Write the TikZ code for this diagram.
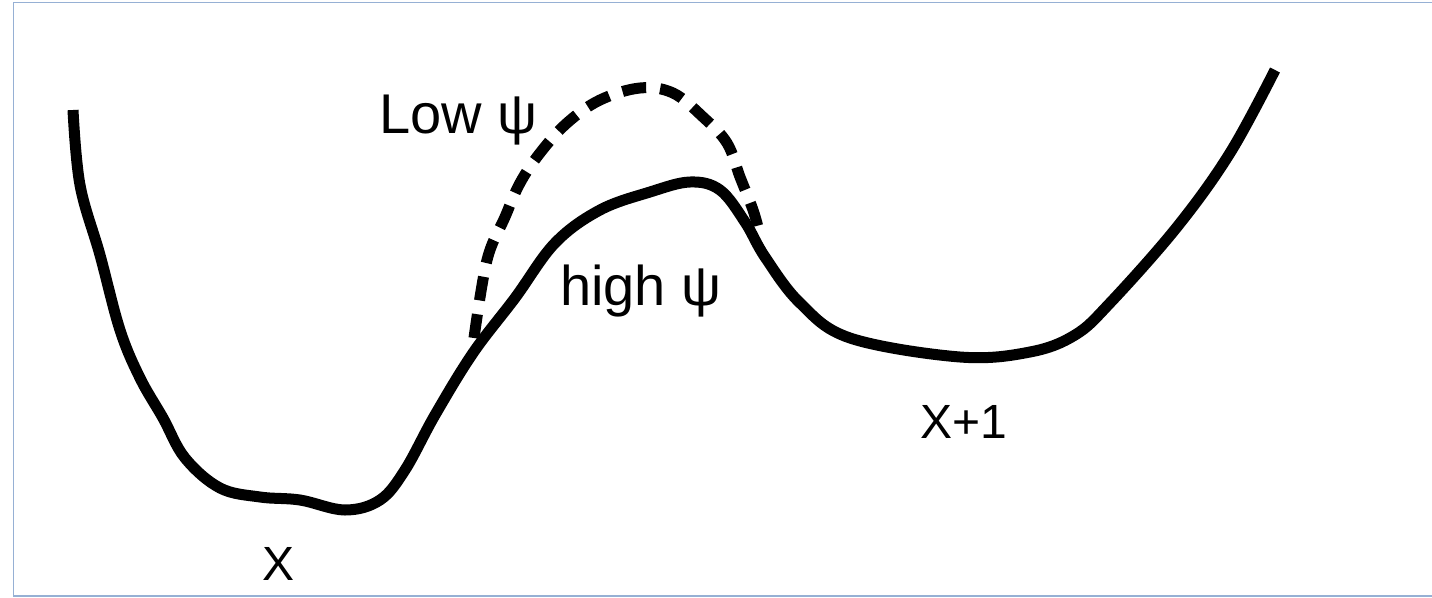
\documentclass[tikz,border=0pt]{standalone}
\usepackage{fontspec}
\setmainfont{Liberation Sans}
\begin{document}
\begin{tikzpicture}[x=1pt,y=-1pt,
  curve/.style={line width=11pt,black},
  dashcurve/.style={line width=11pt,black,dash pattern=on 24pt off 14pt},
  lbl/.style={inner sep=0pt,font=\fontsize{56}{60}\selectfont},
  lblsmall/.style={inner sep=0pt,font=\fontsize{48}{52}\selectfont}]
\useasboundingbox (0,0) rectangle (1432,597);
\draw[color={rgb,255:red,150;green,176;blue,212},line width=1.5pt] (1440,2.5) -- (13.5,2.5) -- (13.5,596) -- (1440,596);
\draw[curve] plot[smooth,tension=0.6] coordinates {
(73,110) (80,185) (100,255) (120,330) (140,378) (163,418) (185,458) (220,488) (260,497) (300,500) (345,510) (380,500) (405,470) (435,415) (473,353) (515,298) (555,243) (600,210) (650,192) (690,182) (720,190) (745,222) (765,257) (800,303) (850,338) (960,357) (1030,352) (1075,335) (1110,303) (1177,227) (1230,153) (1275,70)};
\draw[dashcurve] plot[smooth,tension=0.6] coordinates {
(474,338) (487,260) (505,217) (520,183) (540,153) (567,123) (600,100) (640,88) (673,93) (703,117) (727,143) (740,177) (753,210) (760,235)};
\node[lbl,anchor=base west] (low) at (379,133) {Low ψ};
\node[lbl,anchor=base west] (high) at (560,305) {high ψ};
\node[lblsmall,anchor=base west] (x) at (262,580) {X};
\node[lblsmall,anchor=base west] (x1) at (920,438) {X+1};
\end{tikzpicture}
\end{document}
